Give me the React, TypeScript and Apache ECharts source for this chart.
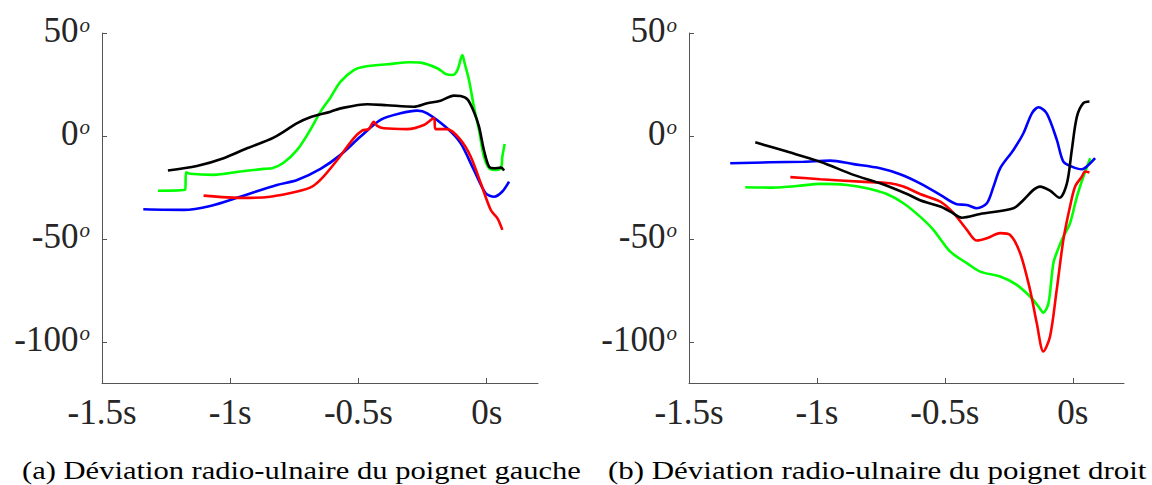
import React, { useEffect, useRef } from "react";
import * as echarts from "echarts";

const xTicks = [-1.5, -1, -0.5, 0];
const yTicks = [-100, -50, 0, 50];
const captions = [
  "(a) Déviation radio-ulnaire du poignet gauche",
  "(b) Déviation radio-ulnaire du poignet droit",
];

// Panel (a) — left wrist
const leftBlack = [[-1.243,-16.8],[-1.130,-14.6],[-1.026,-10.8],[-0.935,-6.0],[-0.831,-0.8],[-0.739,6.2],[-0.688,9.1],[-0.609,11.8],[-0.570,13.4],[-0.466,15.4],[-0.388,14.9],[-0.284,14.2],[-0.232,15.9],[-0.180,17.1],[-0.128,19.6],[-0.102,19.4],[-0.075,17.8],[-0.050,11.8],[-0.030,4.5],[-0.011,-6.8],[0.009,-14.9],[0.029,-15.7],[0.055,-15.4],[0.068,-16.8]];
const leftGreen = [[-1.282,-26.6],[-1.176,-26.1],[-1.172,-17.6],[-1.156,-18.4],[-1.065,-18.9],[-0.961,-17.3],[-0.870,-16.0],[-0.837,-15.7],[-0.792,-13.0],[-0.739,-6.8],[-0.688,2.9],[-0.648,11.8],[-0.609,18.7],[-0.570,26.4],[-0.518,32.0],[-0.479,33.6],[-0.388,34.8],[-0.297,35.8],[-0.258,35.6],[-0.193,32.9],[-0.160,30.1],[-0.134,29.6],[-0.114,32.0],[-0.095,39.3],[-0.086,35.3],[-0.069,27.2],[-0.050,14.2],[-0.030,2.9],[-0.011,-10.0],[0.009,-15.7],[0.029,-16.5],[0.055,-15.7],[0.061,-10.0],[0.070,-3.9]];
const leftBlue = [[-1.339,-35.6],[-1.182,-35.9],[-1.078,-34.0],[-0.961,-29.5],[-0.818,-23.8],[-0.739,-21.4],[-0.648,-16.0],[-0.570,-9.2],[-0.492,-0.3],[-0.414,7.8],[-0.336,11.0],[-0.271,12.3],[-0.232,11.0],[-0.154,3.7],[-0.102,-3.5],[-0.050,-16.5],[-0.004,-27.8],[0.029,-29.5],[0.061,-27.0],[0.087,-22.2]];
const leftRed = [[-1.104,-29.0],[-0.948,-30.1],[-0.844,-29.5],[-0.739,-27.0],[-0.681,-24.6],[-0.642,-20.5],[-0.583,-11.7],[-0.518,-1.1],[-0.486,2.6],[-0.460,3.3],[-0.440,6.9],[-0.427,4.9],[-0.401,3.7],[-0.310,3.3],[-0.245,5.3],[-0.206,8.6],[-0.199,3.3],[-0.154,3.3],[-0.102,-1.9],[-0.0625,-10.0],[-0.023,-23.0],[0.016,-36.0],[0.042,-40.0],[0.061,-45.6]];

// Panel (b) — right wrist
const rightBlack = [[-1.241,-3.1],[-1.117,-7.6],[-0.987,-12.5],[-0.857,-18.9],[-0.753,-23.0],[-0.648,-28.2],[-0.597,-31.2],[-0.518,-34.3],[-0.479,-36.7],[-0.434,-39.7],[-0.362,-37.9],[-0.232,-35.1],[-0.193,-31.1],[-0.154,-26.2],[-0.128,-24.6],[-0.089,-26.6],[-0.052,-30.0],[-0.023,-23.0],[-0.004,-6.8],[0.016,9.4],[0.041,15.9],[0.065,16.7]];
const rightBlue = [[-1.339,-13.3],[-1.182,-12.8],[-1.052,-12.5],[-0.948,-12.0],[-0.857,-13.7],[-0.753,-15.7],[-0.675,-18.6],[-0.597,-23.0],[-0.518,-28.6],[-0.453,-33.2],[-0.414,-33.5],[-0.375,-35.1],[-0.336,-32.7],[-0.310,-24.6],[-0.284,-15.7],[-0.232,-6.8],[-0.193,1.3],[-0.160,11.0],[-0.134,13.9],[-0.102,11.0],[-0.0625,-1.9],[-0.037,-12.5],[-0.004,-14.9],[0.035,-16.2],[0.061,-14.1],[0.087,-10.8]];
const rightRed = [[-1.104,-20.0],[-0.987,-21.0],[-0.831,-22.2],[-0.714,-23.0],[-0.662,-24.6],[-0.597,-28.2],[-0.518,-31.9],[-0.466,-37.5],[-0.414,-45.6],[-0.375,-50.8],[-0.336,-49.7],[-0.284,-47.2],[-0.245,-48.1],[-0.206,-56.9],[-0.167,-74.8],[-0.141,-90.9],[-0.115,-104.7],[-0.089,-97.4],[-0.063,-74.8],[-0.037,-50.5],[-0.011,-34.3],[0.009,-24.6],[0.035,-19.8],[0.048,-17.3],[0.065,-17.8]];
const rightGreen = [[-1.280,-24.9],[-1.182,-25.1],[-1.078,-24.3],[-0.987,-23.3],[-0.883,-23.8],[-0.805,-25.4],[-0.727,-28.2],[-0.662,-32.7],[-0.597,-39.2],[-0.545,-45.6],[-0.479,-56.2],[-0.414,-61.8],[-0.362,-65.9],[-0.284,-68.3],[-0.219,-72.3],[-0.167,-78.0],[-0.134,-82.9],[-0.115,-85.8],[-0.095,-81.2],[-0.076,-61.8],[-0.056,-54.5],[-0.037,-48.9],[-0.011,-42.4],[0.016,-29.5],[0.041,-19.8],[0.068,-10.8]];

const FONT = "Liberation Serif";
const AXIS_COLOR = "#555555";
const TEXT_COLOR = "#262626";

function xAxis(gridIndex: number) {
  return {
    type: "value",
    gridIndex,
    min: -1.5,
    max: 0.2,
    axisLine: { show: true, onZero: false, lineStyle: { color: AXIS_COLOR, width: 1 } },
    axisTick: { show: true, inside: true, length: 5, customValues: xTicks, lineStyle: { color: AXIS_COLOR } },
    axisLabel: {
      customValues: xTicks,
      margin: 12,
      color: TEXT_COLOR,
      fontFamily: FONT,
      fontSize: 35,
      formatter: (v: number) => `${v}s`,
    },
    splitLine: { show: false },
  };
}

function yAxis(gridIndex: number) {
  return {
    type: "value",
    gridIndex,
    min: -120,
    max: 50,
    axisLine: { show: true, onZero: false, lineStyle: { color: AXIS_COLOR, width: 1 } },
    axisTick: { show: true, inside: true, length: 5, customValues: yTicks, lineStyle: { color: AXIS_COLOR } },
    axisLabel: {
      customValues: yTicks,
      margin: 12,
      color: TEXT_COLOR,
      fontFamily: FONT,
      fontSize: 35,
      padding: [0, 0, 5, 0],
      formatter: (v: number) => `{n|${v}}{s|o}`,
      rich: {
        n: { fontFamily: FONT, fontSize: 35, color: TEXT_COLOR, lineHeight: 35 },
        s: { fontFamily: FONT, fontSize: 21, fontStyle: "italic", color: TEXT_COLOR, verticalAlign: "top", lineHeight: 21, padding: [1, 0, 0, 1] },
      },
    },
    splitLine: { show: false },
  };
}

function line(data: number[][], color: string, idx: number) {
  return {
    type: "line",
    xAxisIndex: idx,
    yAxisIndex: idx,
    data,
    showSymbol: false,
    symbol: "none",
    smooth: 0.3,
    lineStyle: { color, width: 2.6 },
    silent: true,
  };
}

export default function App() {
  const ref = useRef<HTMLDivElement>(null);
  useEffect(() => {
    if (!ref.current) return;
    const chart = echarts.init(ref.current, null, { renderer: "svg" });
    chart.setOption({
      animation: false,
      backgroundColor: "#ffffff",
      grid: [
        { left: 102, top: 33, width: 436, height: 350 },
        { left: 689, top: 33, width: 435, height: 350 },
      ],
      xAxis: [xAxis(0), xAxis(1)],
      yAxis: [yAxis(0), yAxis(1)],
      series: [
        line(leftGreen, "#00ff00", 0),
        line(leftBlue, "#0000ff", 0),
        line(leftRed, "#ff0000", 0),
        line(leftBlack, "#000000", 0),
        line(rightGreen, "#00ff00", 1),
        line(rightBlue, "#0000ff", 1),
        line(rightRed, "#ff0000", 1),
        line(rightBlack, "#000000", 1),
      ],
      graphic: [
        {
          type: "text",
          x: 22,
          y: 457,
          scaleX: 1.175,
          style: { text: captions[0], fontFamily: FONT, fontSize: 26, fill: "#000000", verticalAlign: "top" },
        },
        {
          type: "text",
          x: 608,
          y: 457,
          scaleX: 1.19,
          style: { text: captions[1], fontFamily: FONT, fontSize: 26, fill: "#000000", verticalAlign: "top" },
        },
      ],
    });
    return () => chart.dispose();
  }, []);
  return (
    <div
      ref={ref}
      style={{ position: "absolute", left: 0, top: 0, width: 1152, height: 485, background: "#fff" }}
    />
  );
}
